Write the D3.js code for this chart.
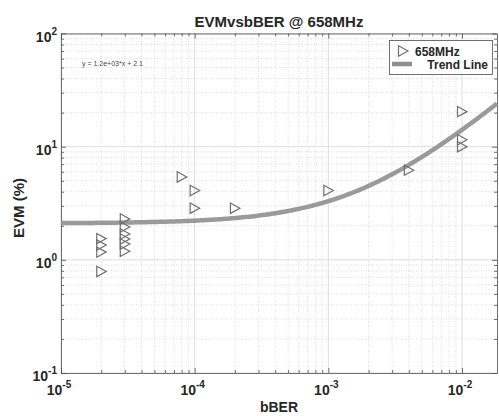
<!DOCTYPE html>
<html>
<head>
<meta charset="utf-8">
<script src="https://cdn.jsdelivr.net/npm/d3@7"></script>
<style>
  html, body { margin: 0; padding: 0; background: #fff; }
  svg { display: block; font-family: "Liberation Sans", Arial, Helvetica, sans-serif; }
</style>
</head>
<body>
<svg id="chart" width="499" height="416"></svg>
<script>
// ---- data ----
const bber = [2e-5, 2e-5, 2e-5, 2e-5,
              3e-5, 3e-5, 3e-5, 3e-5, 3e-5, 3e-5,
              8e-5, 1e-4, 1e-4, 2e-4, 1e-3, 4e-3, 1e-2, 1e-2, 1e-2];
const evm  = [1.54, 1.35, 1.17, 0.79,
              2.3, 1.95, 1.69, 1.53, 1.38, 1.19,
              5.4, 4.1, 2.86, 2.86, 4.1, 6.2, 20.4, 11.5, 10.0];
const trendSlope = 1.2e3;
const trendIntercept = 2.1;
const xTickValues = [1e-5, 1e-4, 1e-3, 1e-2];
const xTickExp = ["-5", "-4", "-3", "-2"];
const yTickValues = [0.1, 1, 10, 100];
const yTickExp = ["-1", "0", "1", "2"];
const titleText = "EVMvsbBER @ 658MHz";
const xLabel = "bBER";
const yLabel = "EVM (%)";
const seriesName = "658MHz";
const trendName = "Trend Line";
const equationText = "y = 1.2e+03*x + 2.1";

// ---- layout ----
const L = 61, R = 497, T = 33.5, B = 373;
const svg = d3.select("#chart");
const x = d3.scaleLog().domain([1e-5, 0.01827]).range([L, R]);
const y = d3.scaleLog().domain([0.1, 100]).range([B, T]);

// minor values
const xMinor = [], yMinor = [];
[1e-5, 1e-4, 1e-3, 1e-2].forEach(d => { for (let k = 2; k <= 9; k++) { const v = d * k; if (v <= x.domain()[1]) xMinor.push(v); } });
[0.1, 1, 10].forEach(d => { for (let k = 2; k <= 9; k++) yMinor.push(d * k); });

const grid = svg.append("g");
// minor grid
grid.selectAll(".xm").data(xMinor).join("line")
  .attr("x1", d => x(d)).attr("x2", d => x(d)).attr("y1", T).attr("y2", B)
  .attr("stroke", "#d6d6d6").attr("stroke-width", 0.8).attr("stroke-dasharray", "1,1.5");
grid.selectAll(".ym").data(yMinor).join("line")
  .attr("y1", d => y(d)).attr("y2", d => y(d)).attr("x1", L).attr("x2", R)
  .attr("stroke", "#d6d6d6").attr("stroke-width", 0.8).attr("stroke-dasharray", "1,1.5");
// major grid
grid.selectAll(".xM").data(xTickValues).join("line")
  .attr("x1", d => x(d)).attr("x2", d => x(d)).attr("y1", T).attr("y2", B)
  .attr("stroke", "#d4d4d4").attr("stroke-width", 0.8);
grid.selectAll(".yM").data(yTickValues).join("line")
  .attr("y1", d => y(d)).attr("y2", d => y(d)).attr("x1", L).attr("x2", R)
  .attr("stroke", "#d4d4d4").attr("stroke-width", 0.8);

// axes (ticks inside, box)
const axCol = "#4d4d4d";
const axG = svg.append("g");
function addAxis(axis, tx, ty) {
  const g = axG.append("g").attr("transform", `translate(${tx},${ty})`).call(axis);
  g.selectAll("text").remove();
  g.select(".domain").attr("stroke", axCol).attr("stroke-width", 0.8);
  g.selectAll(".tick line").attr("stroke", axCol).attr("stroke-width", 0.8);
  return g;
}
const xAll = xTickValues.concat(xMinor);
const yAll = yTickValues.concat(yMinor);
const isMajor = v => Math.abs(Math.log10(v) - Math.round(Math.log10(v))) < 1e-6;
const tl = v => isMajor(v) ? -5 : -3;
addAxis(d3.axisBottom(x).tickValues(xAll).tickSizeOuter(0), 0, B).selectAll(".tick line").attr("y2", d => tl(d));
addAxis(d3.axisTop(x).tickValues(xAll).tickSizeOuter(0), 0, T).selectAll(".tick line").attr("y2", d => -tl(d));
addAxis(d3.axisLeft(y).tickValues(yAll).tickSizeOuter(0), L, 0).selectAll(".tick line").attr("x2", d => -tl(d));
addAxis(d3.axisRight(y).tickValues(yAll).tickSizeOuter(0), R, 0).selectAll(".tick line").attr("x2", d => tl(d));

// tick labels
const tc = "#262626";
const xl = svg.append("g");
xTickValues.forEach((v, i) => {
  const t = xl.append("text").attr("x", x(v) - 2).attr("y", B + 22)
    .attr("text-anchor", "middle").attr("font-size", 14).attr("font-weight", "bold").attr("fill", tc);
  t.append("tspan").text("10");
  t.append("tspan").attr("dy", -7).attr("font-size", 10).text(xTickExp[i]);
});
yTickValues.forEach((v, i) => {
  const t = xl.append("text").attr("x", L - 4).attr("y", y(v) + 8)
    .attr("text-anchor", "end").attr("font-size", 14).attr("font-weight", "bold").attr("fill", tc);
  t.append("tspan").text("10");
  t.append("tspan").attr("dy", -7).attr("font-size", 10).text(yTickExp[i]);
});

// trend line
const nTrend = 200;
const lx = d3.range(nTrend).map(i => Math.pow(10, Math.log10(x.domain()[0]) + i / (nTrend - 1) * (Math.log10(x.domain()[1]) - Math.log10(x.domain()[0]))));
const trend = lx.map(v => [v, trendSlope * v + trendIntercept]);
svg.append("path").datum(trend)
  .attr("d", d3.line().x(d => x(d[0])).y(d => y(d[1])))
  .attr("fill", "none").attr("stroke", "#8f8f8f").attr("stroke-width", 4.5).attr("opacity", 0.9);

// markers
const tri = (cx, cy) => `M${cx - 4.5},${cy - 5.2}L${cx + 5},${cy}L${cx - 4.5},${cy + 5.2}Z`;
svg.append("g").selectAll("path").data(bber.map((b, i) => [b, evm[i]])).join("path")
  .attr("d", d => tri(x(d[0]), y(d[1])))
  .attr("fill", "none").attr("stroke", "#6f6f6f").attr("stroke-width", 1.2);

// equation
svg.append("text").attr("x", 82).attr("y", 66).attr("font-size", 7).attr("fill", "#444").text(equationText);

// legend
const lg = svg.append("g");
lg.append("rect").attr("x", 389.5).attr("y", 40.5).attr("width", 103).attr("height", 34)
  .attr("fill", "#fff").attr("stroke", "#4d4d4d").attr("stroke-width", 0.8);
lg.append("path").attr("d", tri(403, 51)).attr("fill", "none").attr("stroke", "#6f6f6f").attr("stroke-width", 1.2);
lg.append("text").attr("x", 415).attr("y", 55.5).attr("font-size", 12).attr("font-weight", "bold").attr("fill", tc).text(seriesName);
lg.append("line").attr("x1", 392).attr("x2", 412).attr("y1", 64).attr("y2", 64)
  .attr("stroke", "#8f8f8f").attr("stroke-width", 4.5);
lg.append("text").attr("x", 488).attr("y", 69).attr("text-anchor", "end").attr("font-size", 12).attr("font-weight", "bold").attr("fill", tc).text(trendName);

// title & labels
svg.append("text").attr("x", (L + R) / 2).attr("y", 26.5).attr("text-anchor", "middle")
  .attr("font-size", 15).attr("font-weight", "bold").attr("fill", tc).text(titleText);
svg.append("text").attr("x", (L + R) / 2).attr("y", 411.5).attr("text-anchor", "middle")
  .attr("font-size", 14).attr("font-weight", "bold").attr("fill", tc).text(xLabel);
svg.append("text").attr("transform", `translate(24,208) rotate(-90)`).attr("text-anchor", "middle")
  .attr("font-size", 15).attr("font-weight", "bold").attr("fill", tc).text(yLabel);
</script>
</body>
</html>
